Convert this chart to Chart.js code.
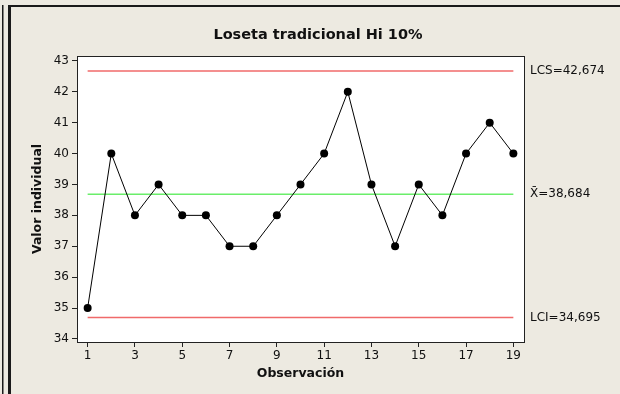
<!DOCTYPE html>
<html>
<head>
<meta charset="utf-8">
<script src="https://cdn.jsdelivr.net/npm/chart.js@4.4.1/dist/chart.umd.min.js"></script>
<style>
  body { margin: 0; background: #edeae1; }
  #wrap { width: 620px; height: 394px; }
</style>
</head>
<body>
<div id="wrap"><canvas id="controlChart"></canvas></div>
<script>
// datos de la carta I (individuales)
var observaciones = [1,2,3,4,5,6,7,8,9,10,11,12,13,14,15,16,17,18,19];
var valores = [35,40,38,39,38,38,37,37,38,39,40,42,39,37,39,38,40,41,40];
var lcs = 42.674;
var media = 38.684;
var lci = 34.695;
var limiteLabels = ["LCS=42,674", "X\u0304=38,684", "LCI=34,695"];
var xTicks = [1,3,5,7,9,11,13,15,17,19];
var yTicks = [34,35,36,37,38,39,40,41,42,43];

var puntos = observaciones.map(function(o, i){ return {x: o, y: valores[i]}; });
var primero = observaciones[0];
var ultimo = observaciones[observaciones.length - 1];

Chart.defaults.font.family = "'DejaVu Sans', Verdana, sans-serif";
Chart.defaults.font.size = 12;
Chart.defaults.color = '#111';

var fondo = {
    id: 'fondo',
    beforeDraw: function(chart) {
        var ctx = chart.ctx, a = chart.chartArea;
        ctx.save();
        ctx.fillStyle = '#edeae1';
        ctx.fillRect(0, 0, chart.width, chart.height);
        // marco del panel
        ctx.fillStyle = '#1a1a1a';
        ctx.fillRect(8, 5, chart.width - 8, 2);
        ctx.fillRect(2, 5, 1.5, chart.height - 5);
        ctx.fillRect(8, 5, 3, chart.height - 5);
        ctx.fillStyle = '#ffffff';
        ctx.fillRect(a.left, a.top, a.right - a.left, a.bottom - a.top);
        ctx.restore();
    },
    afterDraw: function(chart) {
        var ctx = chart.ctx, a = chart.chartArea;
        ctx.save();
        ctx.strokeStyle = '#222';
        ctx.lineWidth = 1;
        ctx.strokeRect(Math.round(a.left) + 0.5, Math.round(a.top) + 0.5,
            Math.round(a.right - a.left), Math.round(a.bottom - a.top));
        ctx.restore();
    }
};

var limites = [lcs, media, lci];

var controlChart = new Chart('controlChart', {
    type: 'scatter',
    data: {
        datasets: [
            {
                label: 'LCS',
                data: [{x: primero, y: lcs}, {x: ultimo, y: lcs}],
                showLine: true,
                borderColor: '#f06a6a',
                borderWidth: 1.5,
                pointRadius: 0,
                order: 2
            },
            {
                label: 'Media',
                data: [{x: primero, y: media}, {x: ultimo, y: media}],
                showLine: true,
                borderColor: '#6aee6a',
                borderWidth: 1.5,
                pointRadius: 0,
                order: 2
            },
            {
                label: 'LCI',
                data: [{x: primero, y: lci}, {x: ultimo, y: lci}],
                showLine: true,
                borderColor: '#f06a6a',
                borderWidth: 1.5,
                pointRadius: 0,
                order: 2
            },
            {
                label: 'Valor individual',
                data: puntos,
                showLine: true,
                borderColor: '#000',
                borderWidth: 1,
                backgroundColor: '#000',
                pointRadius: 4,
                pointBorderWidth: 0,
                order: 1
            }
        ]
    },
    options: {
        responsive: true,
        maintainAspectRatio: false,
        animation: false,
        layout: { padding: { left: 22, right: 6, top: 8, bottom: 8 } },
        plugins: {
            legend: { display: false },
            tooltip: { enabled: false },
            title: {
                display: true,
                text: 'Loseta tradicional Hi 10%',
                font: { size: 14.5, weight: 'bold' },
                color: '#111',
                padding: { top: 19, bottom: 11.6 }
            }
        },
        scales: {
            x: {
                type: 'linear',
                min: 0.55,
                max: 19.45,
                afterBuildTicks: function(scale) {
                    scale.ticks = xTicks.map(function(v){ return {value: v}; });
                },
                afterFit: function(scale) { scale.height = 44; },
                grid: { drawOnChartArea: false, tickLength: 5, color: '#222' },
                border: { display: true, color: '#222' },
                ticks: { autoSkip: false, maxRotation: 0, padding: 2, color: '#111' },
                title: {
                    display: true,
                    text: 'Observación',
                    font: { size: 12.5, weight: 'bold' },
                    color: '#111',
                    padding: { top: 0, bottom: 5 }
                }
            },
            y: {
                type: 'linear',
                position: 'left',
                min: 33.9,
                max: 43.16,
                afterBuildTicks: function(scale) {
                    scale.ticks = yTicks.map(function(v){ return {value: v}; });
                },
                afterFit: function(scale) { scale.width = 55; },
                grid: { drawOnChartArea: false, tickLength: 5, color: '#222' },
                border: { display: true, color: '#222' },
                ticks: { padding: 3, color: '#111' },
                title: {
                    display: true,
                    text: 'Valor individual',
                    font: { size: 12.5, weight: 'bold' },
                    color: '#111',
                    padding: { top: 8, bottom: 0 }
                }
            },
            y2: {
                type: 'linear',
                position: 'right',
                min: 33.9,
                max: 43.16,
                afterBuildTicks: function(scale) {
                    scale.ticks = limites.map(function(v){ return {value: v}; });
                },
                afterFit: function(scale) { scale.width = 90; },
                grid: { display: false, drawTicks: false },
                border: { display: false },
                ticks: {
                    padding: 6,
                    color: '#111',
                    callback: function(value) {
                        var i = limites.indexOf(value);
                        return i >= 0 ? limiteLabels[i] : '';
                    }
                }
            }
        }
    },
    plugins: [fondo]
});
</script>
</body>
</html>
